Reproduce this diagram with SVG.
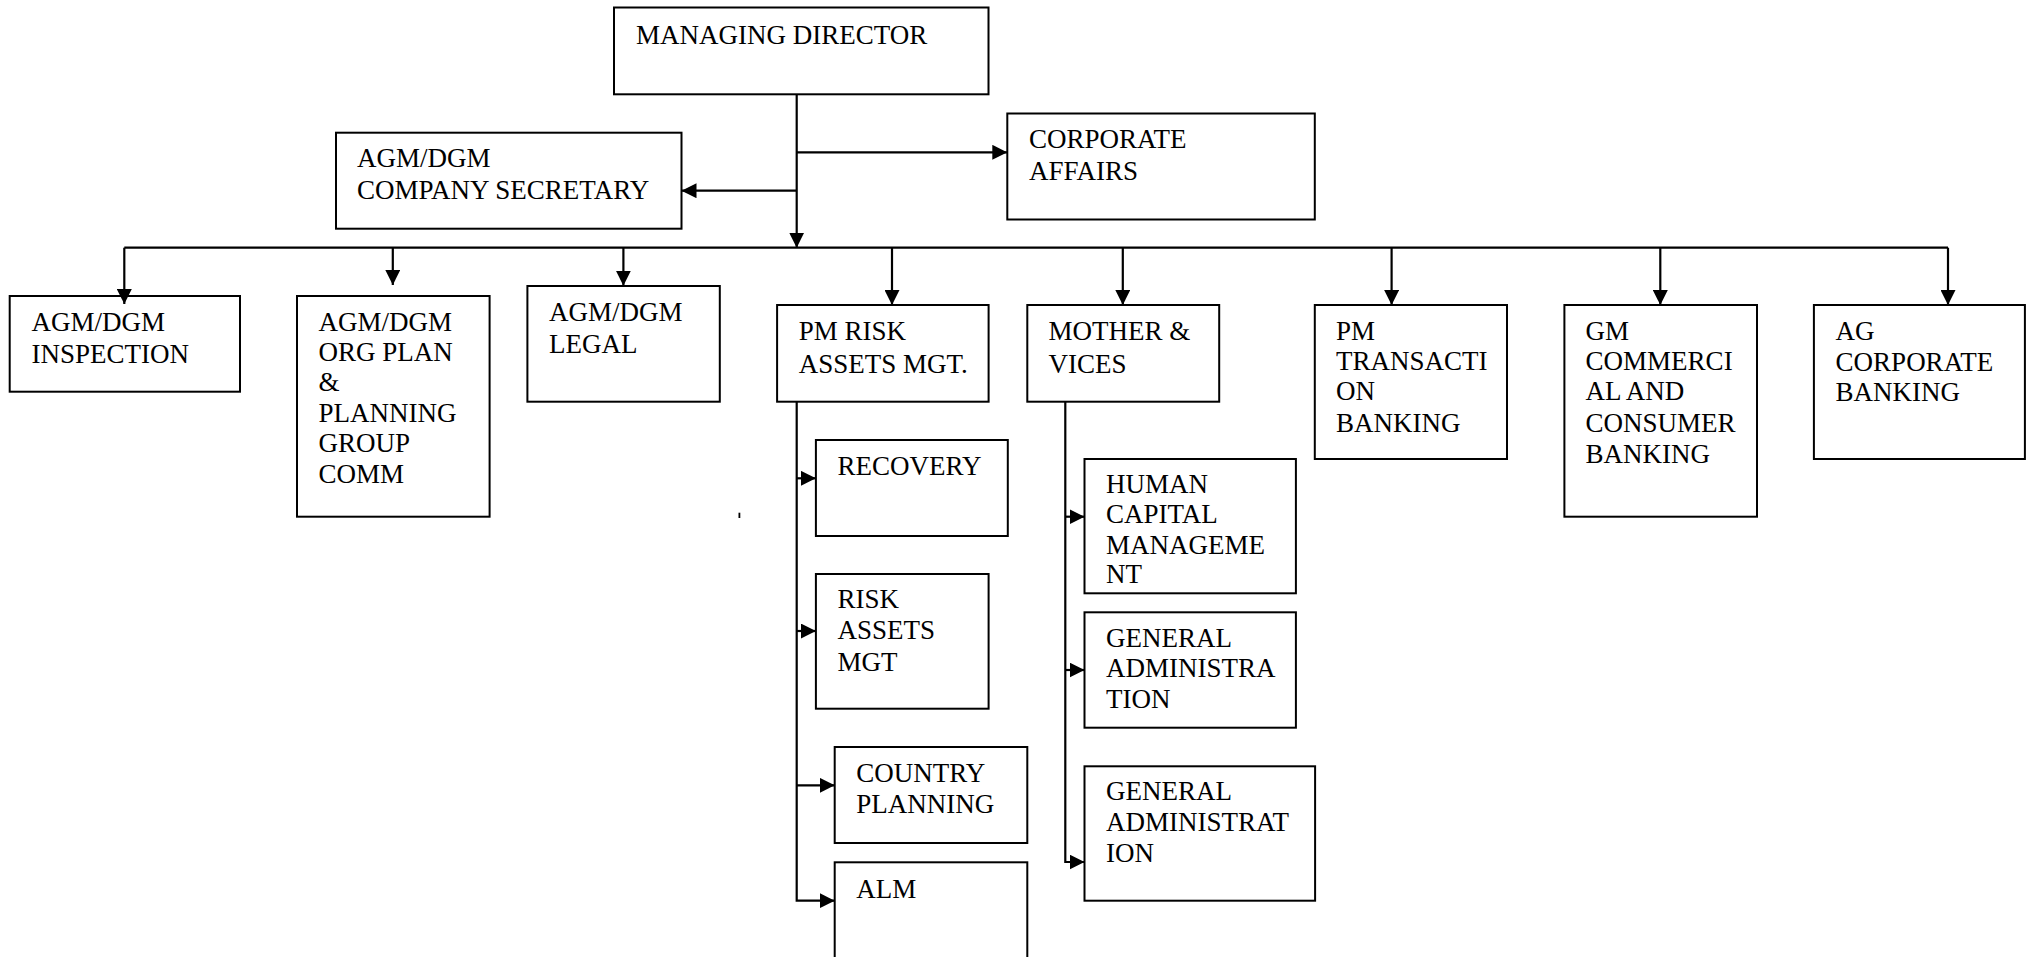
<svg xmlns="http://www.w3.org/2000/svg" width="2026" height="957" viewBox="0 0 2026 957">
<defs>
<style>
.box{fill:#fff;stroke:#000;stroke-width:2}
.t{font-family:"Liberation Serif","Times New Roman",serif;font-size:27px;fill:#000}
.c{fill:none;stroke:#000;stroke-width:2.2}
</style>
<marker id="ah" markerUnits="userSpaceOnUse" markerWidth="15" markerHeight="15" refX="15" refY="7.5" orient="auto">
<path d="M0,0 L15,7.5 L0,15 z" fill="#000"/>
</marker>
</defs>
<rect width="2026" height="957" fill="#fff"/>

<g id="md"><rect class="box" x="614" y="7.5" width="374.5" height="86.8"/><text class="t" x="636" y="43.5">MANAGING DIRECTOR</text></g>
<g id="secretary"><rect class="box" x="336" y="132.7" width="345.5" height="96"/><text class="t" x="357" y="166.7">AGM/DGM</text><text class="t" x="357" y="199">COMPANY SECRETARY</text></g>
<g id="corporate-affairs"><rect class="box" x="1007.3" y="113.5" width="307.5" height="106"/><text class="t" x="1029" y="147.7">CORPORATE</text><text class="t" x="1029" y="180">AFFAIRS</text></g>

<g id="inspection"><rect class="box" x="9.7" y="296" width="230.3" height="95.7"/><text class="t" x="31.5" y="331">AGM/DGM</text><text class="t" x="31.5" y="362.7">INSPECTION</text></g>
<g id="org-plan"><rect class="box" x="297" y="296" width="192.6" height="220.7"/><text class="t" x="318.5" y="331">AGM/DGM</text><text class="t" x="318.5" y="360.5">ORG PLAN</text><text class="t" x="318.5" y="391">&amp;</text><text class="t" x="318.5" y="421.7">PLANNING</text><text class="t" x="318.5" y="452.3">GROUP</text><text class="t" x="318.5" y="483.3">COMM</text></g>
<g id="legal"><rect class="box" x="527.4" y="286" width="192.4" height="115.7"/><text class="t" x="549" y="320.7">AGM/DGM</text><text class="t" x="549" y="352.7">LEGAL</text></g>
<g id="pm-risk"><rect class="box" x="777.1" y="305" width="211.5" height="96.7"/><text class="t" x="798.8" y="340">PM RISK</text><text class="t" x="798.8" y="372.7">ASSETS MGT.</text></g>
<g id="mother"><rect class="box" x="1027.3" y="305" width="191.9" height="96.7"/><text class="t" x="1048.6" y="340">MOTHER &amp;</text><text class="t" x="1048.6" y="372.7">VICES</text></g>
<g id="pm-transaction"><rect class="box" x="1314.8" y="305" width="192.2" height="154"/><text class="t" x="1336" y="340">PM</text><text class="t" x="1336" y="370">TRANSACTI</text><text class="t" x="1336" y="400">ON</text><text class="t" x="1336" y="431.7">BANKING</text></g>
<g id="gm-commercial"><rect class="box" x="1564.4" y="305" width="192.6" height="211.7"/><text class="t" x="1585.6" y="340">GM</text><text class="t" x="1585.6" y="370">COMMERCI</text><text class="t" x="1585.6" y="400">AL AND</text><text class="t" x="1585.6" y="431.7">CONSUMER</text><text class="t" x="1585.6" y="462.7">BANKING</text></g>
<g id="ag-corporate"><rect class="box" x="1813.9" y="305" width="211" height="154"/><text class="t" x="1835.6" y="340">AG</text><text class="t" x="1835.6" y="370.7">CORPORATE</text><text class="t" x="1835.6" y="400.7">BANKING</text></g>

<g id="recovery"><rect class="box" x="815.9" y="440" width="191.9" height="96"/><text class="t" x="837.6" y="475">RECOVERY</text></g>
<g id="risk-assets"><rect class="box" x="815.9" y="574" width="172.7" height="134.7"/><text class="t" x="837.6" y="608.3">RISK</text><text class="t" x="837.6" y="639.3">ASSETS</text><text class="t" x="837.6" y="670.5">MGT</text></g>
<g id="country-planning"><rect class="box" x="834.7" y="747" width="192.6" height="96"/><text class="t" x="856.3" y="781.7">COUNTRY</text><text class="t" x="856.3" y="813.3">PLANNING</text></g>
<g id="alm"><rect class="box" x="834.7" y="862.3" width="192.6" height="120"/><text class="t" x="856.3" y="898.3">ALM</text></g>

<g id="human-capital"><rect class="box" x="1084.5" y="459" width="211.4" height="134.3"/><text class="t" x="1106" y="493.3">HUMAN</text><text class="t" x="1106" y="523.3">CAPITAL</text><text class="t" x="1106" y="554">MANAGEME</text><text class="t" x="1106" y="582.7">NT</text></g>
<g id="general-admin-1"><rect class="box" x="1084.5" y="612.3" width="211.4" height="115.4"/><text class="t" x="1106" y="646.7">GENERAL</text><text class="t" x="1106" y="677.3">ADMINISTRA</text><text class="t" x="1106" y="708.3">TION</text></g>
<g id="general-admin-2"><rect class="box" x="1084.5" y="766.3" width="230.6" height="134.4"/><text class="t" x="1106" y="800">GENERAL</text><text class="t" x="1106" y="831">ADMINISTRAT</text><text class="t" x="1106" y="861.7">ION</text></g>

<g id="connectors">
<path class="c" d="M796.7,94.3 V247.7" marker-end="url(#ah)"/>
<path class="c" d="M796.7,190.7 H681.5" marker-end="url(#ah)"/>
<path class="c" d="M796.7,152.3 H1007.3" marker-end="url(#ah)"/>
<path class="c" d="M124.3,247.7 H1948"/>
<path class="c" d="M124.3,247.7 V304" marker-end="url(#ah)"/>
<path class="c" d="M392.8,247.7 V285" marker-end="url(#ah)"/>
<path class="c" d="M623.4,247.7 V285.7" marker-end="url(#ah)"/>
<path class="c" d="M892,247.7 V305" marker-end="url(#ah)"/>
<path class="c" d="M1122.8,247.7 V305" marker-end="url(#ah)"/>
<path class="c" d="M1391.6,247.7 V305" marker-end="url(#ah)"/>
<path class="c" d="M1660.3,247.7 V305" marker-end="url(#ah)"/>
<path class="c" d="M1948,247.7 V305" marker-end="url(#ah)"/>
<path class="c" d="M796.7,401.7 V900.7 H834.7" marker-end="url(#ah)"/>
<path class="c" d="M796.7,478.3 H815.9" marker-end="url(#ah)"/>
<path class="c" d="M796.7,631 H815.9" marker-end="url(#ah)"/>
<path class="c" d="M796.7,785.3 H834.7" marker-end="url(#ah)"/>
<path class="c" d="M1065.3,401.7 V862 H1084.5" marker-end="url(#ah)"/>
<path class="c" d="M1065.3,516.7 H1084.5" marker-end="url(#ah)"/>
<path class="c" d="M1065.3,670 H1084.5" marker-end="url(#ah)"/>
</g>
<rect x="738.5" y="512.7" width="1.8" height="5.3" fill="#000"/>
</svg>
